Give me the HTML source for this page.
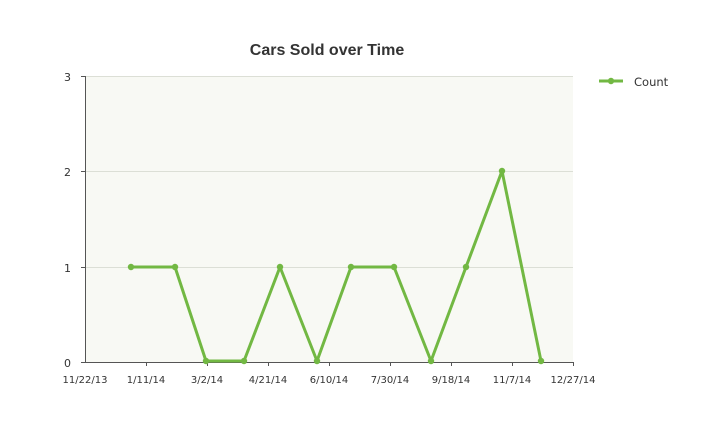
<!DOCTYPE html>
<html><head><meta charset="utf-8"><style>
html,body{margin:0;padding:0;background:#fff;}
svg{display:block;font-family:"DejaVu Sans","Liberation Sans",sans-serif;}
</style></head><body>
<svg width="718" height="431" viewBox="0 0 718 431">
<rect x="85" y="76" width="488" height="286" fill="#f8f9f4"/>
<g stroke="#dcdfd6" stroke-width="1">
<line x1="85" y1="76.5" x2="573" y2="76.5"/>
<line x1="85" y1="171.5" x2="573" y2="171.5"/>
<line x1="85" y1="267.5" x2="573" y2="267.5"/>
</g>
<g stroke="#555" stroke-width="1">
<line x1="85.5" y1="76" x2="85.5" y2="362"/>
<line x1="85" y1="362.5" x2="573" y2="362.5"/>
<line x1="81" y1="76.5" x2="85" y2="76.5"/>
<line x1="81" y1="171.5" x2="85" y2="171.5"/>
<line x1="81" y1="267.5" x2="85" y2="267.5"/>
<line x1="81" y1="362.5" x2="85" y2="362.5"/>
<line x1="146.5" y1="362" x2="146.5" y2="366"/>
<line x1="207.5" y1="362" x2="207.5" y2="366"/>
<line x1="268.5" y1="362" x2="268.5" y2="366"/>
<line x1="329.5" y1="362" x2="329.5" y2="366"/>
<line x1="390.5" y1="362" x2="390.5" y2="366"/>
<line x1="451.5" y1="362" x2="451.5" y2="366"/>
<line x1="512.5" y1="362" x2="512.5" y2="366"/>
<line x1="573.5" y1="362" x2="573.5" y2="366"/>
</g>
<g font-size="11" fill="#333" text-anchor="end">
<text x="71" y="81">3</text><text x="71" y="176">2</text><text x="71" y="272">1</text><text x="71" y="367">0</text>
</g>
<g font-size="10" fill="#333" text-anchor="middle">
<text x="85" y="383">11/22/13</text><text x="146" y="383">1/11/14</text><text x="207" y="383">3/2/14</text>
<text x="268" y="383">4/21/14</text><text x="329" y="383">6/10/14</text><text x="390" y="383">7/30/14</text>
<text x="451" y="383">9/18/14</text><text x="512" y="383">11/7/14</text><text x="573" y="383">12/27/14</text>
</g>
<text x="327" y="55" font-size="16" fill="#333" text-anchor="middle" font-weight="bold" font-family="Liberation Sans, sans-serif">Cars Sold over Time</text>
<polyline fill="none" stroke="#72b843" stroke-width="3" stroke-linejoin="round" points="131,267 175,267 206,361 244,361 280,267 317,361 351,267 394,267 431,361 466,267 502,171 541,361"/>
<g fill="#72b843">
<circle cx="131" cy="267" r="3.2"/><circle cx="175" cy="267" r="3.2"/><circle cx="206" cy="361" r="3.2"/><circle cx="244" cy="361" r="3.2"/>
<circle cx="280" cy="267" r="3.2"/><circle cx="317" cy="361" r="3.2"/><circle cx="351" cy="267" r="3.2"/><circle cx="394" cy="267" r="3.2"/>
<circle cx="431" cy="361" r="3.2"/><circle cx="466" cy="267" r="3.2"/><circle cx="502" cy="171" r="3.2"/><circle cx="541" cy="361" r="3.2"/>
</g>
<line x1="599" y1="81" x2="623" y2="81" stroke="#72b843" stroke-width="3"/>
<circle cx="611" cy="81" r="3.2" fill="#72b843"/>
<text x="634" y="86" font-size="11.5" fill="#333">Count</text>
</svg>
</body></html>
